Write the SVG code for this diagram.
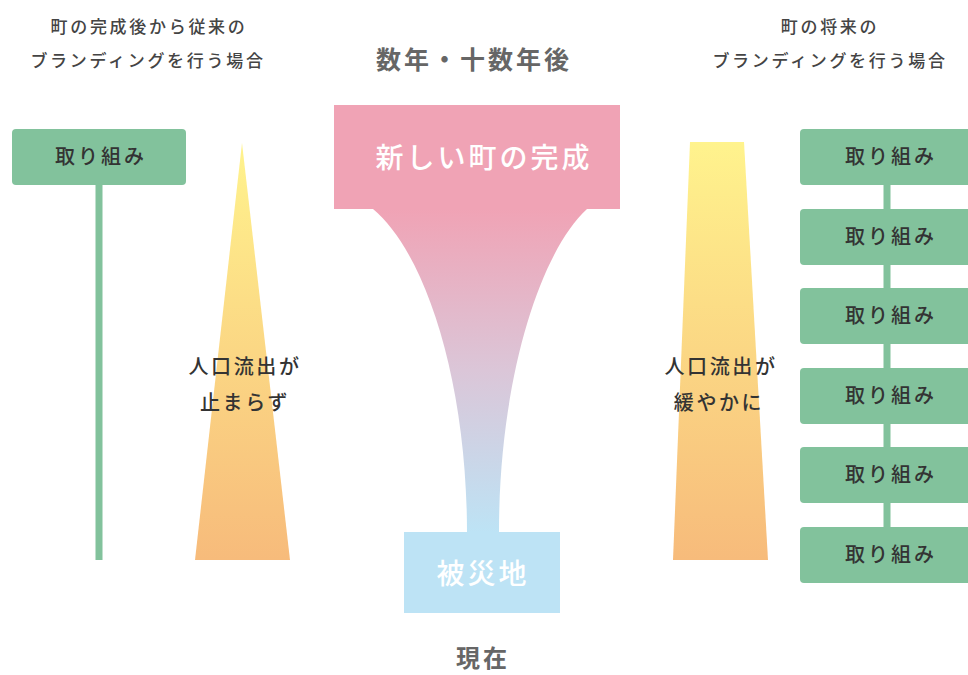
<svg xmlns="http://www.w3.org/2000/svg" width="968" height="675" viewBox="0 0 968 675">
<defs>
<style>
text{font-family:"Noto Sans CJK JP","Noto Sans",sans-serif;text-anchor:middle}
.title{font-size:17px;fill:#444;font-weight:500;letter-spacing:2.7px}
.head{font-size:25px;fill:#666;font-weight:700;letter-spacing:3px}
.box{fill:#82c29c}
.lab{font-size:20px;fill:#333;font-weight:500;letter-spacing:3px}
.big{font-size:28px;fill:#fff;font-weight:500;letter-spacing:3px}
.mid{font-size:20px;fill:#333;font-weight:500;letter-spacing:2.6px}
.link{stroke:#82c29c;stroke-width:7;fill:none}
</style>
<linearGradient id="yo" x1="0" y1="0" x2="0" y2="1">
<stop offset="0" stop-color="#fff38d"/>
<stop offset="1" stop-color="#f7bb7b"/>
</linearGradient>
<linearGradient id="pb" gradientUnits="userSpaceOnUse" x1="0" y1="209" x2="0" y2="532">
<stop offset="0" stop-color="#f0a3b5"/>
<stop offset="0.5" stop-color="#dbc6d8"/>
<stop offset="1" stop-color="#bde3f5"/>
</linearGradient>
</defs>

<g id="left-title">
<text class="title" x="149" y="33">町の完成後から従来の</text>
<text class="title" x="148" y="67">ブランディングを行う場合</text>
</g>
<g id="right-title">
<text class="title" x="830" y="33">町の将来の</text>
<text class="title" x="830" y="67">ブランディングを行う場合</text>
</g>
<text class="head" x="474" y="69">数年・十数年後</text>
<text class="head" x="483" y="667" style="font-size:24px">現在</text>

<g id="connectors">
<line class="link" x1="99" y1="185" x2="99" y2="560"/>
<line class="link" x1="887" y1="185" x2="887" y2="530"/>
</g>

<g id="left-action">
<rect class="box" x="12" y="129" width="174" height="56" rx="4"/>
<text class="lab" x="101" y="164">取り組み</text>
</g>

<g id="left-flow">
<polygon points="242,143 290,560 195,560" fill="url(#yo)"/>
<text class="mid" x="245" y="374">人口流出が</text>
<text class="mid" x="245" y="410">止まらず</text>
</g>

<g id="funnel">
<path d="M373,209 C425,252 467,380 467,532 L499,532 C499,380 540,252 587,209 Z" fill="url(#pb)"/>
</g>
<g id="new-town">
<rect x="334" y="105" width="286" height="104" fill="#f0a3b5"/>
<text class="big" x="484" y="168">新しい町の完成</text>
</g>
<g id="disaster">
<rect x="404" y="532" width="156" height="81" fill="#bde3f5"/>
<text class="big" x="483" y="584">被災地</text>
</g>

<g id="right-flow">
<polygon points="690,142 744,142 768,560 673,560" fill="url(#yo)"/>
<text class="mid" x="721" y="374">人口流出が</text>
<text class="mid" x="719" y="410">緩やかに</text>
</g>

<g id="right-action-1"><rect class="box" x="800" y="129" width="174" height="56" rx="4"/><text class="lab" x="891" y="164">取り組み</text></g>
<g id="right-action-2"><rect class="box" x="800" y="209" width="174" height="56" rx="4"/><text class="lab" x="891" y="244">取り組み</text></g>
<g id="right-action-3"><rect class="box" x="800" y="288" width="174" height="56" rx="4"/><text class="lab" x="891" y="323">取り組み</text></g>
<g id="right-action-4"><rect class="box" x="800" y="368" width="174" height="56" rx="4"/><text class="lab" x="891" y="403">取り組み</text></g>
<g id="right-action-5"><rect class="box" x="800" y="447" width="174" height="56" rx="4"/><text class="lab" x="891" y="482">取り組み</text></g>
<g id="right-action-6"><rect class="box" x="800" y="527" width="174" height="56" rx="4"/><text class="lab" x="891" y="562">取り組み</text></g>
</svg>
